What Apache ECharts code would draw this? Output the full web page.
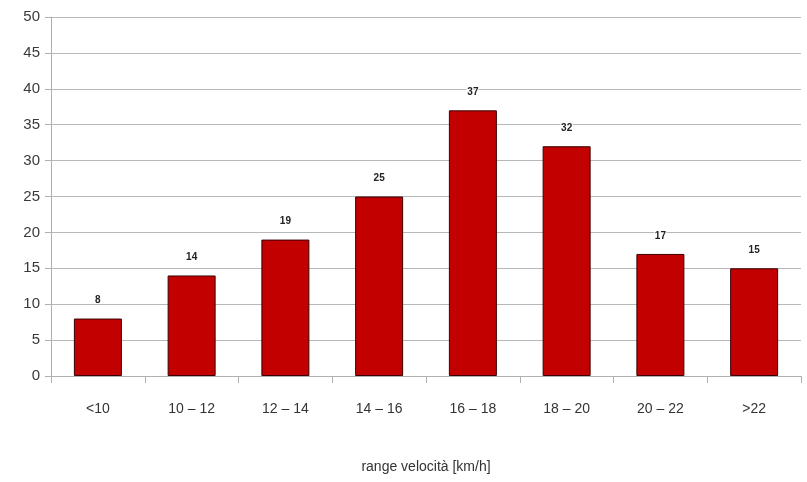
<!DOCTYPE html>
<html>
<head>
<meta charset="utf-8">
<script src="https://cdn.jsdelivr.net/npm/echarts@6/dist/echarts.min.js"></script>
<style>
  html, body { margin: 0; padding: 0; background: #fff; }
  #chart { width: 807px; height: 482px; }
</style>
</head>
<body>
<div id="chart"></div>
<script>
// Speed ranges and counts
const categories = ['<10', '10 – 12', '12 – 14', '14 – 16', '16 – 18', '18 – 20', '20 – 22', '>22'];
const counts = [8, 14, 19, 25, 37, 32, 17, 15];

const chart = echarts.init(document.getElementById('chart'));
chart.setOption({
  animation: false,
  backgroundColor: '#ffffff',
  grid: { left: 51, right: 6, top: 17, bottom: 106 },
  xAxis: {
    type: 'category',
    data: categories,
    name: 'range velocità [km/h]',
    nameLocation: 'middle',
    nameGap: 84,
    nameTextStyle: { fontFamily: 'Liberation Sans', fontSize: 14, color: '#333' },
    axisLine: { lineStyle: { color: '#b0b0b0', width: 1 } },
    axisTick: { show: true, length: 7, lineStyle: { color: '#b0b0b0' } },
    axisLabel: { fontFamily: 'Liberation Sans', fontSize: 14, color: '#333', margin: 26 }
  },
  yAxis: {
    type: 'value',
    min: 0,
    max: 50,
    interval: 5,
    axisLine: { show: true, lineStyle: { color: '#b0b0b0', width: 1 } },
    axisTick: { show: true, length: 6, lineStyle: { color: '#b0b0b0' } },
    axisLabel: { fontFamily: 'Liberation Sans', fontSize: 15, color: '#3a3a3a', margin: 11 },
    splitLine: { lineStyle: { color: '#b8b8b8', width: 1 } }
  },
  series: [{
    type: 'bar',
    data: counts,
    barWidth: 48,
    itemStyle: { color: '#c20000', borderColor: '#3a0000', borderWidth: 1 },
    label: {
      show: true,
      position: 'top',
      distance: 13,
      fontFamily: 'Liberation Sans',
      fontSize: 10,
      fontWeight: 'bold',
      color: '#222',
      textBorderColor: '#ffffff',
      textBorderWidth: 2
    }
  }]
});
</script>
</body>
</html>
